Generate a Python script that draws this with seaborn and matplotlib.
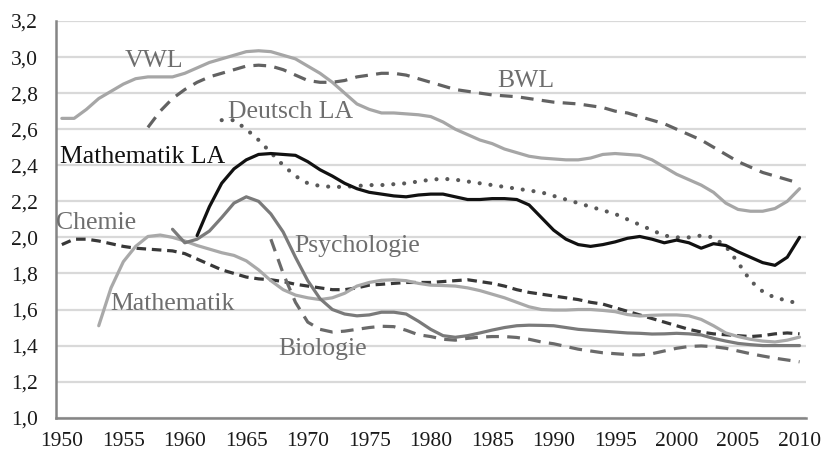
import numpy as np
import pandas as pd
import seaborn as sns
from matplotlib import pyplot as plt

# values (mean grades by subject and year)
vwl_start = 1950
vwl = [2.66, 2.66, 2.71, 2.77, 2.81, 2.85, 2.88, 2.89, 2.89, 2.89,
       2.91, 2.94, 2.97, 2.99, 3.01, 3.03, 3.035, 3.03, 3.01, 2.99,
       2.95, 2.91, 2.86, 2.80, 2.74, 2.71, 2.69, 2.69, 2.685, 2.68,
       2.67, 2.64, 2.60, 2.57, 2.54, 2.52, 2.49, 2.47, 2.45, 2.44,
       2.435, 2.43, 2.43, 2.44, 2.46, 2.465, 2.46, 2.455, 2.43, 2.39,
       2.35, 2.32, 2.29, 2.25, 2.19, 2.155, 2.145, 2.145, 2.16, 2.20,
       2.27]

bwl_start = 1957
bwl = [2.61, 2.70, 2.77, 2.82, 2.86, 2.89, 2.91, 2.93, 2.95, 2.955,
       2.95, 2.93, 2.90, 2.87, 2.86, 2.86, 2.87, 2.89, 2.90, 2.91,
       2.91, 2.90, 2.88, 2.86, 2.84, 2.82, 2.81, 2.80, 2.79, 2.785,
       2.78, 2.77, 2.76, 2.75, 2.745, 2.74, 2.73, 2.72, 2.70, 2.69,
       2.67, 2.65, 2.63, 2.60, 2.57, 2.54, 2.50, 2.46, 2.42, 2.39,
       2.36, 2.34, 2.32, 2.30]

deutsch_start = 1963
deutsch = [2.65, 2.65, 2.60, 2.54, 2.47, 2.40, 2.34, 2.30, 2.285, 2.28,
           2.28, 2.285, 2.29, 2.29, 2.295, 2.30, 2.31, 2.32, 2.325, 2.32,
           2.31, 2.30, 2.29, 2.28, 2.27, 2.26, 2.25, 2.23, 2.21, 2.19,
           2.17, 2.15, 2.13, 2.10, 2.07, 2.04, 2.01, 2.00, 2.00, 2.01,
           2.00, 1.95, 1.86, 1.76, 1.70, 1.665, 1.65, 1.63]

mathe_la_start = 1961
mathe_la = [2.01, 2.17, 2.30, 2.38, 2.43, 2.46, 2.465, 2.46, 2.455,
            2.42, 2.375, 2.34, 2.30, 2.27, 2.25, 2.24, 2.23, 2.225, 2.235,
            2.24, 2.24, 2.225, 2.21, 2.21, 2.215, 2.215, 2.21, 2.18, 2.11,
            2.04, 1.99, 1.96, 1.95, 1.96, 1.975, 1.995, 2.005, 1.99, 1.97,
            1.985, 1.97, 1.94, 1.965, 1.955, 1.92, 1.89, 1.86, 1.845, 1.89,
            2.00]

chemie_start = 1950
chemie = [1.96, 1.99, 1.99, 1.98, 1.965, 1.95, 1.94, 1.935, 1.93, 1.925,
          1.91, 1.88, 1.85, 1.82, 1.80, 1.78, 1.77, 1.765, 1.755, 1.74,
          1.73, 1.72, 1.71, 1.71, 1.72, 1.735, 1.74, 1.745, 1.75, 1.75,
          1.75, 1.755, 1.76, 1.765, 1.755, 1.745, 1.73, 1.71, 1.695, 1.685,
          1.675, 1.665, 1.655, 1.64, 1.63, 1.61, 1.59, 1.57, 1.55, 1.53,
          1.51, 1.49, 1.475, 1.465, 1.46, 1.455, 1.45, 1.455, 1.465, 1.47,
          1.465]

mathe_start = 1953
mathe = [1.51, 1.72, 1.865, 1.95, 2.005, 2.013, 2.00, 1.98, 1.955, 1.935,
         1.915, 1.90, 1.87, 1.82, 1.76, 1.71, 1.68, 1.665, 1.655, 1.665,
         1.69, 1.73, 1.75, 1.762, 1.765, 1.76, 1.745, 1.735, 1.733, 1.73,
         1.72, 1.705, 1.685, 1.665, 1.64, 1.615, 1.60, 1.597, 1.597, 1.60,
         1.60, 1.595, 1.588, 1.572, 1.564, 1.568, 1.57, 1.57, 1.565, 1.545,
         1.51, 1.47, 1.45, 1.435, 1.425, 1.42, 1.43, 1.447]

psycho_start = 1959
psycho = [2.045, 1.97, 1.99, 2.035, 2.11, 2.19, 2.225, 2.20, 2.13, 2.03,
          1.89, 1.76, 1.66, 1.60, 1.575, 1.565, 1.57, 1.585, 1.585, 1.575,
          1.535, 1.49, 1.455, 1.446, 1.455, 1.47, 1.486, 1.50, 1.51, 1.513,
          1.512, 1.51, 1.50, 1.49, 1.485, 1.48, 1.475, 1.47, 1.468, 1.464,
          1.465, 1.468, 1.465, 1.459, 1.44, 1.425, 1.412, 1.405, 1.40, 1.40,
          1.40, 1.40]

bio_start = 1967
bio = [1.99, 1.80, 1.64, 1.53, 1.49, 1.475, 1.48, 1.49, 1.50, 1.507,
       1.505, 1.485, 1.46, 1.45, 1.435, 1.43, 1.44, 1.447, 1.45, 1.45,
       1.445, 1.435, 1.42, 1.41, 1.395, 1.38, 1.37, 1.36, 1.355, 1.35,
       1.348, 1.355, 1.37, 1.385, 1.395, 1.398, 1.394, 1.385, 1.37, 1.355,
       1.342, 1.33, 1.32, 1.31]

y_ticks = [1.0, 1.2, 1.4, 1.6, 1.8, 2.0, 2.2, 2.4, 2.6, 2.8, 3.0, 3.2]
x_ticks = list(range(1950, 2011, 5))

# name, start, values, colour, dash pattern (None = solid)
series = [
    ("VWL", vwl_start, vwl, "#a6a6a6", None),
    ("BWL", bwl_start, bwl, "#626262", (4, 2.6)),
    ("Deutsch LA", deutsch_start, deutsch, "#595959", (0.01, 2.6)),
    ("Mathematik LA", mathe_la_start, mathe_la, "#111111", None),
    ("Chemie", chemie_start, chemie, "#383838", (3, 1.8)),
    ("Mathematik", mathe_start, mathe, "#a9a9a9", None),
    ("Psychologie", psycho_start, psycho, "#7a7a7a", None),
    ("Biologie", bio_start, bio, "#6a6a6a", (4, 2.6)),
]

# label text, left x (year), baseline y, colour
labels = [
    ("VWL", 1955.1, 2.945, "#6e6e6e"),
    ("BWL", 1985.4, 2.836, "#6e6e6e"),
    ("Deutsch LA", 1963.5, 2.662, "#6e6e6e"),
    ("Mathematik LA", 1949.86, 2.411, "#111111"),
    ("Chemie", 1949.55, 2.045, "#6e6e6e"),
    ("Mathematik", 1953.9, 1.597, "#6e6e6e"),
    ("Psychologie", 1968.9, 1.921, "#6e6e6e"),
    ("Biologie", 1967.6, 1.348, "#6e6e6e"),
]

sns.set_theme(style="white")
plt.rcParams["font.family"] = ["Liberation Serif", "DejaVu Serif"]

fig = plt.figure(figsize=(8.22, 4.53), dpi=100)
ax = fig.add_axes([55.7 / 822, 1 - 417.7 / 453, 750 / 822, 396.7 / 453])

for name, start, values, color, dashes in series:
    df = pd.DataFrame({"year": np.arange(start, start + len(values)), "grade": values})
    sns.lineplot(data=df, x="year", y="grade", color=color, linewidth=2.3, ax=ax)
    l = ax.lines[-1]
    if dashes is not None:
        if dashes[0] < 0.1:
            l.set_linewidth(3.0)
            l.set_dash_capstyle("round")
        l.set_dashes(dashes)

for text, x, y, color in labels:
    ax.text(x, y, text, color=color, fontsize=18.5, ha="left", va="baseline", zorder=5)

ax.set_xlim(1949.5, 2010.5)
ax.set_ylim(1.0, 3.2)
ax.set_xticks(x_ticks)
ax.set_yticks(y_ticks)
ax.set_yticklabels([f"{v:.1f}".replace(".", ",") for v in y_ticks])
ax.set_xlabel("")
ax.set_ylabel("")
ax.tick_params(axis="both", labelsize=15.5, colors="#1a1a1a", length=0)
ax.tick_params(axis="y", pad=13)
ax.tick_params(axis="x", pad=10)
ax.grid(axis="y", color="#d9d9d9", linewidth=1.6)
ax.set_axisbelow(True)
for side in ["top", "right"]:
    ax.spines[side].set_visible(False)
for side in ["left", "bottom"]:
    ax.spines[side].set_color("#858585")
    ax.spines[side].set_linewidth(1.8)

fig.savefig("out.png", dpi=100)
